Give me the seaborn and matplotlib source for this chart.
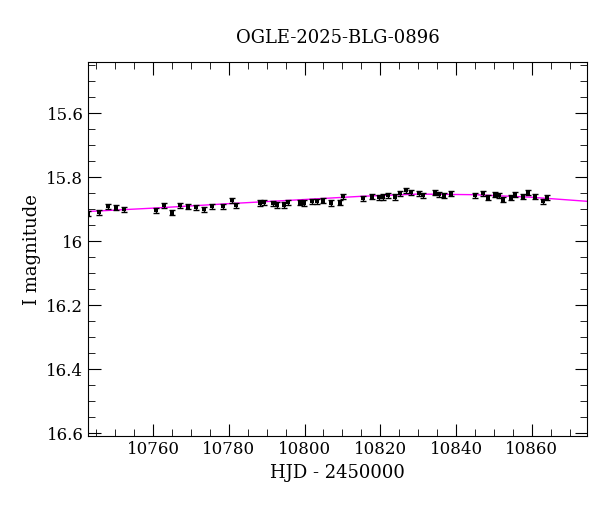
import matplotlib
matplotlib.use("Agg")
import matplotlib.pyplot as plt
import seaborn as sns
import pandas as pd
from matplotlib.ticker import MultipleLocator, FuncFormatter

hjd = [10742.9, 10745.8, 10748.0, 10750.2, 10752.3, 10760.7, 10762.9, 10764.9, 10767.1, 10769.2,
       10771.3, 10773.4, 10775.6, 10778.6, 10780.8, 10781.9, 10788.2, 10789.4, 10791.6, 10792.6,
       10794.6, 10795.7, 10798.8, 10799.9, 10802.0, 10803.2, 10805.0, 10807.1, 10809.3, 10810.2,
       10815.5, 10817.7, 10819.7, 10820.8, 10822.1, 10823.9, 10825.2, 10826.9, 10828.1, 10830.2,
       10831.3, 10834.4, 10835.5, 10836.8, 10838.6, 10845.0, 10847.2, 10848.3, 10850.2, 10851.4,
       10852.4, 10854.5, 10855.5, 10857.7, 10858.9, 10860.8, 10863.0, 10864.1]
mag = [15.914, 15.910, 15.891, 15.895, 15.900, 15.904, 15.888, 15.911, 15.888, 15.892,
       15.894, 15.900, 15.891, 15.891, 15.872, 15.888, 15.881, 15.879, 15.882, 15.887,
       15.887, 15.878, 15.880, 15.881, 15.876, 15.875, 15.874, 15.881, 15.880, 15.860,
       15.866, 15.861, 15.863, 15.862, 15.857, 15.862, 15.850, 15.841, 15.848, 15.850,
       15.857, 15.849, 15.854, 15.858, 15.852, 15.857, 15.850, 15.864, 15.855, 15.857,
       15.870, 15.865, 15.855, 15.861, 15.849, 15.861, 15.875, 15.865]
err = [0.008] * len(hjd)

model_t = [10742, 10760, 10780, 10800, 10815, 10830, 10845, 10860, 10875]
model_m = [15.908, 15.897, 15.883, 15.870, 15.860, 15.853, 15.855, 15.863, 15.876]

plt.rcParams["font.family"] = "DejaVu Serif"
fig = plt.figure(figsize=(6, 5.12), dpi=100)
ax = fig.add_axes([0.147, 0.148, 0.831, 0.731])

df = pd.DataFrame({"t": hjd, "m": mag})
dm = pd.DataFrame({"t": model_t, "m": model_m})
sns.lineplot(data=dm, x="t", y="m", ax=ax, color="magenta", lw=1, sort=False)
ax.errorbar(hjd, mag, yerr=err, fmt="none", ecolor="black", elinewidth=1, capsize=2.5)
sns.scatterplot(data=df, x="t", y="m", ax=ax, color="black", marker="s", s=10, linewidth=0, zorder=3)

ax.set_xlim(10742.9, 10874.5)
ax.set_ylim(16.61, 15.44)
ax.xaxis.set_major_locator(MultipleLocator(20))
ax.xaxis.set_minor_locator(MultipleLocator(5))
ax.yaxis.set_major_locator(MultipleLocator(0.2))
ax.yaxis.set_minor_locator(MultipleLocator(0.05))
ax.yaxis.set_major_formatter(FuncFormatter(lambda v, p: f"{v:g}"))
ax.tick_params(which="both", direction="in", top=True, right=True, labelsize=12)
ax.tick_params(which="major", length=9)
ax.tick_params(which="minor", length=5)
ax.set_xlabel("HJD - 2450000", fontsize=13)
ax.set_ylabel("I magnitude", fontsize=13)
ax.set_title("OGLE-2025-BLG-0896", fontsize=13, pad=14)
fig.savefig("out.png", dpi=100)
